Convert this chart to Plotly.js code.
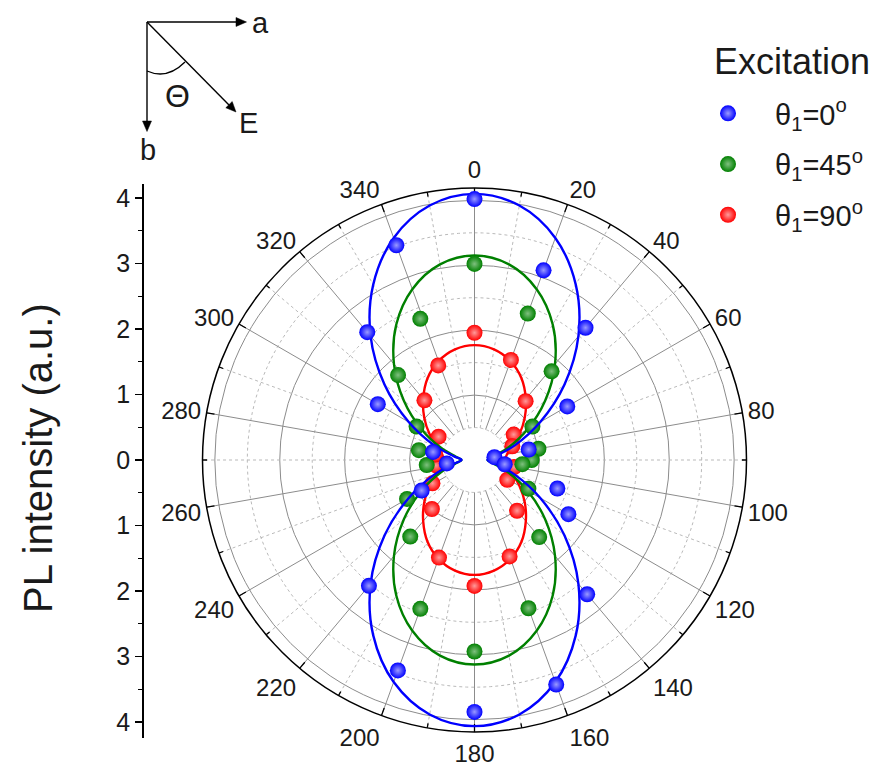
<!DOCTYPE html>
<html>
<head>
<meta charset="utf-8">
<script src="https://cdn.plot.ly/plotly-3.0.1.min.js"></script>
<style>
html,body{margin:0;padding:0;background:#ffffff;}
#chart{width:875px;height:767px;}
</style>
</head>
<body>
<div id="chart"></div>
<script>
// ---------------- DATA ----------------
const angleTickVals = [0,20,40,60,80,100,120,140,160,180,200,220,240,260,280,300,320,340];
const angleTickText = ['0','20','40','60','80','100','120','140','160','180','200','220','240','260','280','300','320','340'];
const radialTickVals = [-4,-3,-2,-1,0,1,2,3,4];
const radialTickText = ['4','3','2','1','0','1','2','3','4'];
const radialMinorVals = [-3.5,-2.5,-1.5,-0.5,0.5,1.5,2.5,3.5];

const legendTitle = 'Excitation';
const seriesNames = ['θ<sub>1</sub>=0<sup>o</sup>', 'θ<sub>1</sub>=45<sup>o</sup>', 'θ<sub>1</sub>=90<sup>o</sup>'];
const seriesColors = ['#0000ff', '#008000', '#ff0000'];
const seriesGlow = ['#9a9aff', '#7fc07f', '#ff9a9a'];

// measured points (angle in degrees, PL intensity)
const blueTheta = [0,20,40,60,79,82,98,109,120,140,160,180,200,220,240,263,281,300,320,340];
const blueR     = [4.02,3.11,2.66,1.65,0.85,0.31,0.47,1.35,1.67,2.70,3.68,3.88,3.45,2.53,0.94,0.43,0.65,1.72,2.57,3.52];
const greenTheta = [0,20,41,60,80,90,95,118,140,160,180,200,220,240,264,280,300,318,339];
const greenR     = [3.02,2.40,1.81,1.03,1.00,0.88,0.74,0.94,1.55,2.43,2.95,2.44,1.54,1.20,0.74,0.87,1.03,1.76,2.33];
const redTheta = [0,20,41,57,70,100,121,140,160,180,200,221,241,262,278,303,320,339];
const redR     = [1.96,1.64,1.20,0.72,0.62,0.62,0.59,1.02,1.58,1.94,1.60,1.00,0.74,0.60,0.61,0.66,1.20,1.56];

// fitted curves every 10 degrees
const fitTheta = [0,10,20,30,40,50,60,70,80,90,100,110,120,130,140,150,160,170,180,190,200,210,220,230,240,250,260,270,280,290,300,310,320,330,340,350,360];
const blueFit  = [4.10,3.98,3.64,3.12,2.49,1.81,1.17,0.66,0.32,0.20,0.32,0.66,1.17,1.81,2.49,3.12,3.64,3.98,4.10,3.98,3.64,3.12,2.49,1.81,1.17,0.66,0.32,0.20,0.32,0.66,1.17,1.81,2.49,3.12,3.64,3.98,4.10];
const greenFit = [3.15,3.06,2.80,2.41,1.93,1.42,0.94,0.55,0.29,0.20,0.29,0.55,0.94,1.42,1.93,2.41,2.80,3.06,3.15,3.06,2.80,2.41,1.93,1.42,0.94,0.55,0.29,0.20,0.29,0.55,0.94,1.42,1.93,2.41,2.80,3.06,3.15];
const redFit   = [1.77,1.73,1.62,1.45,1.23,1.01,0.80,0.62,0.51,0.47,0.51,0.62,0.80,1.01,1.23,1.45,1.62,1.73,1.77,1.73,1.62,1.45,1.23,1.01,0.80,0.62,0.51,0.47,0.51,0.62,0.80,1.01,1.23,1.45,1.62,1.73,1.77];

// ---------------- GEOMETRY / STYLE ----------------
const W = 875, H = 767;
const CX = 474.5, CY = 460, RPX = 272, RMAX = 4.19;
const FONT = 'Liberation Sans, Arial, Helvetica, sans-serif';
const TXT = '#1a1a1a';
const px = x => x / W;
const py = y => 1 - y / H;
const unitPx = RPX / RMAX;

// polar grid helpers (decoration)
function spokes(angles, r0, r1) {
  const th = [], r = [];
  angles.forEach(a => { th.push(a, a, null); r.push(r0, r1, null); });
  return {th, r};
}
function circles(radii) {
  const th = [], r = [];
  radii.forEach(rv => {
    for (let a = 0; a <= 360; a += 2) { th.push(a); r.push(rv); }
    th.push(null); r.push(null);
  });
  return {th, r};
}
const majorAngles = angleTickVals;
const minorAngles = angleTickVals.map(a => a + 10);
const majorSp = spokes(majorAngles, 0.5, RMAX);
const minorSp = spokes(minorAngles, 0.5, RMAX);
const dotCircles = circles([0.5, 1.5, 2.5, 3.5]);
const majorTk = spokes(majorAngles, RMAX - 8 / unitPx, RMAX);
const minorTk = spokes(minorAngles, RMAX - 4.5 / unitPx, RMAX);

const gridTrace = (g, color, dash, width) => ({
  type: 'scatterpolar', mode: 'lines', theta: g.th, r: g.r,
  line: {color: color, dash: dash, width: width},
  hoverinfo: 'skip', showlegend: false, connectgaps: false
});

const traces = [
  gridTrace(dotCircles, '#b9b9b9', 'dot', 1),
  gridTrace(minorSp, '#b9b9b9', 'dot', 1),
  gridTrace(majorSp, '#8c8c8c', 'solid', 1),
  gridTrace(majorTk, '#000000', 'solid', 1.3),
  gridTrace(minorTk, '#000000', 'solid', 1.3)
];

const fits = [blueFit, greenFit, redFit];
const thetas = [blueTheta, greenTheta, redTheta];
const rs = [blueR, greenR, redR];
[2, 1, 0].forEach(i => {
  traces.push({
    type: 'scatterpolar', mode: 'lines', theta: fitTheta, r: fits[i],
    line: {color: seriesColors[i], width: 2.4, shape: 'spline', smoothing: 1},
    hoverinfo: 'skip', showlegend: false
  });
  traces.push({
    type: 'scatterpolar', mode: 'markers', theta: thetas[i], r: rs[i],
    name: seriesNames[i], legendgroup: 'g' + i, legendrank: i + 1,
    marker: {color: seriesColors[i], size: 16, line: {width: 0},
             gradient: {type: 'radial', color: seriesGlow[i]}},
    hoverinfo: 'skip'
  });
});

// left intensity scale (cartesian axis)
traces.push({
  type: 'scatter', x: [0.5], y: [0], mode: 'markers', marker: {opacity: 0},
  xaxis: 'x', yaxis: 'y', hoverinfo: 'skip', showlegend: false
});

// ---------------- ANNOTATIONS / SHAPES (orientation sketch) ----------------
const O = [147, 22];
const lineShape = (x0, y0, x1, y1) => ({
  type: 'line', xref: 'paper', yref: 'paper',
  x0: px(x0), y0: py(y0), x1: px(x1), y1: py(y1),
  line: {color: '#000', width: 1.4}
});
const triShape = pts => ({
  type: 'path', xref: 'paper', yref: 'paper',
  path: 'M' + pts.map(p => px(p[0]).toFixed(5) + ',' + py(p[1]).toFixed(5)).join(' L') + ' Z',
  fillcolor: '#000', line: {color: '#000', width: 0.5}
});
const shapes = [
  lineShape(O[0], O[1], 238, O[1]),
  triShape([[246.5, 22], [236, 17.5], [236, 26.5]]),
  lineShape(O[0], O[1], O[0], 123),
  triShape([[147, 131.5], [142.5, 121], [151.5, 121]]),
  lineShape(O[0], O[1], 229, 105),
  triShape([[236, 112], [225.8, 107.8], [232.2, 101.5]]),
  {type: 'path', xref: 'paper', yref: 'paper',
   path: 'M' + px(147).toFixed(5) + ',' + py(71).toFixed(5) +
         ' Q' + px(167).toFixed(5) + ',' + py(80).toFixed(5) + ' ' +
         px(185).toFixed(5) + ',' + py(62).toFixed(5),
   line: {color: '#000', width: 1.3}}
];

const ann = (text, x, y, size, extra) => Object.assign({
  text: text, x: px(x), y: py(y), xref: 'paper', yref: 'paper',
  showarrow: false, xanchor: 'center', yanchor: 'middle',
  font: {family: FONT, size: size, color: TXT}
}, extra || {});

const annotations = [
  ann('a', 260, 23, 29),
  ann('b', 148, 150, 29),
  ann('E', 248, 123, 29),
  ann('Θ', 177, 96, 32),
  ann('PL intensity (a.u.)', 38, 458, 40, {textangle: -90}),
  ann(legendTitle, 872, 61, 36, {xanchor: 'right'})
];

const layout = {
  width: W, height: H,
  margin: {l: 0, r: 0, t: 0, b: 0, pad: 0},
  paper_bgcolor: '#ffffff', plot_bgcolor: 'rgba(0,0,0,0)',
  font: {family: FONT, color: TXT},
  showlegend: true,
  legend: {
    x: px(681), y: py(88), xanchor: 'left', yanchor: 'top',
    bgcolor: 'rgba(0,0,0,0)', borderwidth: 0,
    itemwidth: 84, tracegroupgap: 10,
    font: {family: FONT, size: 29, color: TXT}
  },
  polar: {
    domain: {x: [px(CX - RPX), px(CX + RPX)], y: [py(CY + RPX), py(CY - RPX)]},
    bgcolor: 'rgba(0,0,0,0)',
    radialaxis: {
      range: [0, RMAX], tickmode: 'array', tickvals: [1, 2, 3, 4],
      showticklabels: false, ticks: '', showline: false,
      showgrid: true, gridcolor: '#8c8c8c', gridwidth: 1
    },
    angularaxis: {
      rotation: 90, direction: 'clockwise',
      tickmode: 'array', tickvals: angleTickVals, ticktext: angleTickText,
      showgrid: false, showline: true, linecolor: '#000', linewidth: 1.5,
      ticks: '',
      tickfont: {family: FONT, size: 24, color: TXT}
    }
  },
  xaxis: {domain: [px(143.5), px(150)], range: [0, 1], visible: false, fixedrange: true},
  yaxis: {
    domain: [py(738), py(184)], range: [-4.244, 4.214], anchor: 'x', side: 'left',
    showline: true, linecolor: '#000', linewidth: 1.3, mirror: false,
    ticks: 'outside', ticklen: 7, tickwidth: 1.3, tickcolor: '#000',
    tickmode: 'array', tickvals: radialTickVals, ticktext: radialTickText,
    tickfont: {family: FONT, size: 25, color: TXT},
    showgrid: false, zeroline: false, fixedrange: true,
    minor: {tickmode: 'array', tickvals: radialMinorVals, ticks: 'outside', ticklen: 4, tickwidth: 1.3, tickcolor: '#000', showgrid: false}
  },
  shapes: shapes,
  annotations: annotations
};

Plotly.newPlot('chart', traces, layout, {displayModeBar: false, staticPlot: true});
</script>
</body>
</html>
